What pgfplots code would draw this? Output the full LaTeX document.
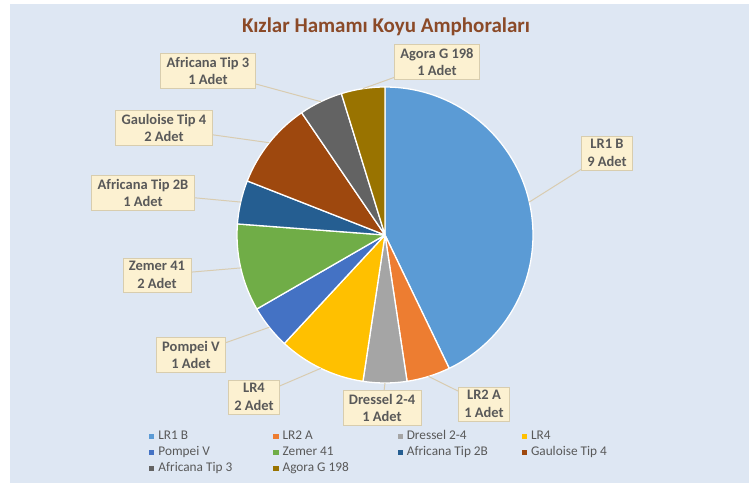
\documentclass[border=0pt]{standalone}
\usepackage{pgfplots}
\usepackage{pgfplotstable}
\pgfplotsset{compat=1.18}
\usepackage{fontspec}
\setmainfont{Carlito}
\definecolor{c0}{HTML}{5B9BD5}
\definecolor{c1}{HTML}{ED7D31}
\definecolor{c2}{HTML}{A5A5A5}
\definecolor{c3}{HTML}{FFC000}
\definecolor{c4}{HTML}{4472C4}
\definecolor{c5}{HTML}{70AD47}
\definecolor{c6}{HTML}{255E91}
\definecolor{c7}{HTML}{9E480E}
\definecolor{c8}{HTML}{636363}
\definecolor{c9}{HTML}{997300}
\definecolor{bgcol}{HTML}{DEE7F3}
\definecolor{boxfill}{HTML}{FCF1D1}
\definecolor{boxline}{HTML}{D8CDAE}
\definecolor{leadcol}{HTML}{D9CCB0}
\definecolor{labtext}{HTML}{595959}
\definecolor{titlecol}{HTML}{8B4A28}

\pgfplotstableread[col sep=comma]{
name,value,lx,ly
LR1 B,9,607,153
LR2 A,1,484,404
Dressel 2-4,1,382,408
LR4,2,254,397
Pompei V,1,191,355
Zemer 41,2,157,275
Africana Tip 2B,1,143,193
Gauloise Tip 4,2,164,128
Africana Tip 3,1,208,71
Agora G 198,1,437,62
}\piedata

\begin{document}
\begin{tikzpicture}
% totals and angles from the table
\pgfplotstablegetrowsof{\piedata}
\pgfmathtruncatemacro\nrows{\pgfplotsretval-1}
\gdef\total{0}
\foreach \i in {0,...,\nrows}{%
  \pgfplotstablegetelem{\i}{value}\of\piedata
  \pgfmathsetmacro\tt{\total+\pgfplotsretval}\xdef\total{\tt}}
\gdef\cum{0}
\foreach \i in {0,...,\nrows}{%
  \pgfplotstablegetelem{\i}{value}\of\piedata \let\vv\pgfplotsretval
  \pgfmathsetmacro\sa{90-360*\cum/\total}
  \pgfmathsetmacro\ea{90-360*(\cum+\vv)/\total}
  \pgfmathsetmacro\ma{(\sa+\ea)/2}
  \expandafter\xdef\csname sa\i\endcsname{\sa}
  \expandafter\xdef\csname ea\i\endcsname{\ea}
  \expandafter\xdef\csname ma\i\endcsname{\ma}
  \expandafter\xdef\csname val\i\endcsname{\vv}
  \pgfplotstablegetelem{\i}{name}\of\piedata
  \expandafter\xdef\csname nm\i\endcsname{\pgfplotsretval}
  \pgfplotstablegetelem{\i}{lx}\of\piedata
  \expandafter\xdef\csname lx\i\endcsname{\pgfplotsretval}
  \pgfplotstablegetelem{\i}{ly}\of\piedata
  \expandafter\xdef\csname ly\i\endcsname{\pgfplotsretval}
  \pgfmathsetmacro\cc{\cum+\vv}\xdef\cum{\cc}}
\begin{axis}[
  scale only axis, width=749pt, height=487pt,
  xmin=0, xmax=749, ymin=0, ymax=487, y dir=reverse,
  hide axis, clip=false,
  legend columns=4,
  legend cell align=left,
  legend style={at={(axis cs:149,429)}, anchor=north west, draw=none, fill=none,
    inner sep=0pt, font=\fontsize{13.3}{15}\selectfont, text=labtext,
    nodes={inner sep=1pt, text height=9.5pt, text depth=3pt},
    /tikz/every odd column/.append style={column sep=3pt},
    row sep=1.5pt},
  legend image code/.code={\fill[#1] (0pt,-2.6pt) rectangle (5.2pt,2.6pt);},
]
\fill[white] (axis cs:0,0) rectangle (axis cs:749,487);
\fill[bgcol] (axis cs:10,4) rectangle (axis cs:749,483);
\node[font=\bfseries\fontsize{21}{24}\selectfont, text=titlecol] at (axis cs:386,27) {Kızlar Hamamı Koyu Amphoraları};
\pgfplotsinvokeforeach{0,...,9}{%
  \edef\temp{\noexpand\fill[fill=c#1, draw=white, line width=1.3pt, line join=round]
    (axis cs:385,235) -- ++(\csname sa#1\endcsname:148pt)
    arc[start angle=\csname sa#1\endcsname, end angle=\csname ea#1\endcsname, radius=148pt] -- cycle;}%
  \temp
}
\pgfplotsinvokeforeach{0,...,9}{%
  \edef\temp{\noexpand\draw[leadcol, line width=1pt]
    (axis cs:385,235) ++(\csname ma#1\endcsname:148pt) -- (axis cs:\csname lx#1\endcsname,\csname ly#1\endcsname);}%
  \temp
}
\pgfplotsinvokeforeach{0,...,9}{%
  \edef\temp{\noexpand\node[fill=boxfill, draw=boxline, line width=0.7pt, text=labtext,
    font=\noexpand\bfseries\noexpand\fontsize{14.5}{17.5}\noexpand\selectfont,
    align=center, inner xsep=6pt, inner ysep=3.5pt]
    at (axis cs:\csname lx#1\endcsname,\csname ly#1\endcsname)
    {\csname nm#1\endcsname\noexpand\\\csname val#1\endcsname\space Adet};}%
  \temp
}
\pgfplotsinvokeforeach{0,...,9}{%
  \edef\temp{\noexpand\addlegendimage{fill=c#1, draw=none}%
    \noexpand\addlegendentry{\noexpand\makebox[114pt][l]{\csname nm#1\endcsname}}}%
  \temp
}
\end{axis}
\end{tikzpicture}
\end{document}
